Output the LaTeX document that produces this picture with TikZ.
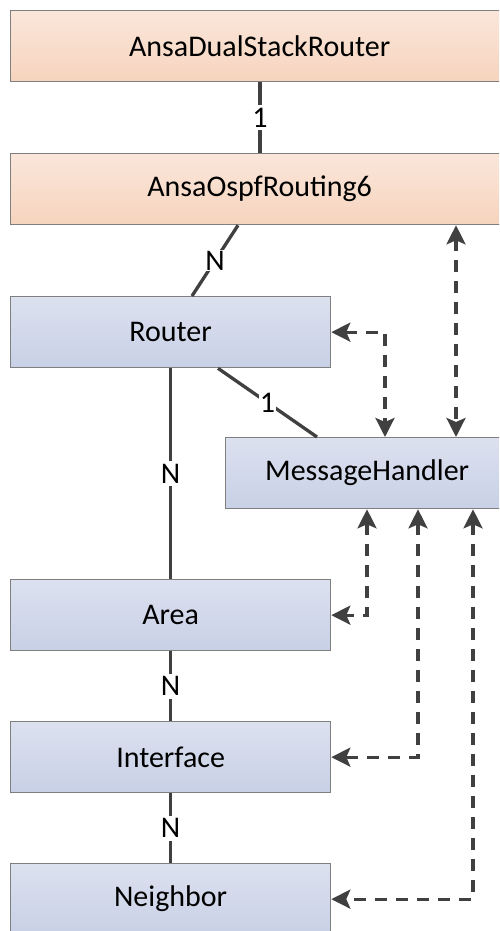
\documentclass[tikz,border=0pt]{standalone}
\usepackage{fontspec}
\setmainfont{Carlito}
\usetikzlibrary{arrows.meta,calc}
\definecolor{otop}{HTML}{FAE6DA}
\definecolor{obot}{HTML}{F6D4BE}
\definecolor{btop}{HTML}{DCE1EF}
\definecolor{bbot}{HTML}{C8D0E6}
\definecolor{edge}{HTML}{7F7F7F}
\definecolor{ink}{HTML}{404040}
\tikzset{
  boxbase/.style={draw=edge, line width=1.3pt, anchor=north west, minimum height=71pt,
    font=\fontsize{30}{36}\selectfont, inner sep=0pt},
  obox/.style={boxbase, top color=otop, bottom color=obot},
  bbox/.style={boxbase, top color=btop, bottom color=bbot},
  link/.style={draw=ink, line width=3.3pt},
  msg/.style={draw=ink, line width=3.3pt, dash pattern=on 12pt off 9pt,
    {Stealth[length=19pt,width=19pt,inset=4pt]}-{Stealth[length=19pt,width=19pt,inset=4pt]}},
  mult/.style={fill=white, inner sep=3pt, font=\fontsize{30}{36}\selectfont}
}
\begin{document}
\begin{tikzpicture}[x=1pt,y=-1pt]
\useasboundingbox (0,0) rectangle (499,931);
\clip (0,0) rectangle (499,931);
\fill[white] (0,0) rectangle (499,931);

% classes
\node[obox, minimum width=498pt] (dsr)  at (10,10)  {AnsaDualStackRouter};
\node[obox, minimum width=498pt] (ospf) at (10,153) {AnsaOspfRouting6};
\node[bbox, minimum width=320pt] (r)    at (10,296) {Router};
\node[bbox, minimum width=283pt] (mh)   at (225,437) {MessageHandler};
\node[bbox, minimum width=320pt] (area) at (10,579) {Area};
\node[bbox, minimum width=320pt] (ifc)  at (10,721) {Interface};
\node[bbox, minimum width=320pt] (nbr)  at (10,863) {Neighbor};

% ownership links with multiplicities
\draw[link] ($(dsr.south west)+(250,0)$) -- node[mult] {1} ($(ospf.north west)+(250,0)$);
\draw[link] ($(ospf.south west)+(228,0)$) -- node[mult, inner sep=1pt] {N} ($(r.north west)+(182,0)$);
\draw[link] ($(r.south west)+(208,0)$) -- node[mult, inner sep=1pt] {1} ($(mh.north west)+(92,0)$);
\draw[link] (r.south) -- node[mult, pos=0.5] {N} (area.north);
\draw[link] (area.south) -- node[mult] {N} (ifc.north);
\draw[link] (ifc.south) -- node[mult] {N} (nbr.north);

% message paths
\draw[msg] (r.east) -| ($(mh.north west)+(160,0)$);
\draw[msg] ($(ospf.south west)+(446,0)$) -- ($(mh.north west)+(231,0)$);
\draw[msg] ($(mh.south west)+(142,0)$) |- (area.east);
\draw[msg] ($(mh.south west)+(193,0)$) |- (ifc.east);
\draw[msg] ($(mh.south west)+(248,0)$) |- (nbr.east);
\end{tikzpicture}
\end{document}
